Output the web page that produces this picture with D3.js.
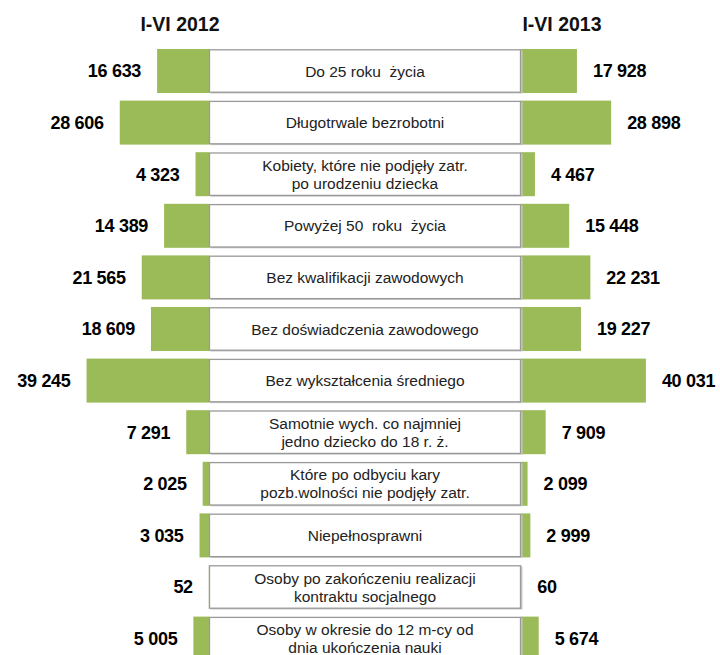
<!DOCTYPE html>
<html>
<head>
<meta charset="utf-8">
<script src="https://cdn.jsdelivr.net/npm/d3@7"></script>
<style>
  body { margin: 0; background: #fff; }
  text { font-family: "Liberation Sans", Arial, sans-serif; }
</style>
</head>
<body>
<div id="main-frame"></div>
<script>
const categories = [
  ["Do 25 roku  życia"],
  ["Długotrwale bezrobotni"],
  ["Kobiety, które nie podjęły zatr.", "po urodzeniu dziecka"],
  ["Powyżej 50  roku  życia"],
  ["Bez kwalifikacji zawodowych"],
  ["Bez doświadczenia zawodowego"],
  ["Bez wykształcenia średniego"],
  ["Samotnie wych. co najmniej", "jedno dziecko do 18 r. ż."],
  ["Które po odbyciu kary", "pozb.wolności nie podjęły zatr."],
  ["Niepełnosprawni"],
  ["Osoby po zakończeniu realizacji", "kontraktu socjalnego"],
  ["Osoby w okresie do 12 m-cy od", "dnia ukończenia nauki"]
];
const values2012 = [16633, 28606, 4323, 14389, 21565, 18609, 39245, 7291, 2025, 3035, 52, 5005];
const values2013 = [17928, 28898, 4467, 15448, 22231, 19227, 40031, 7909, 2099, 2999, 60, 5674];
const seriesNames = ["I-VI 2012", "I-VI 2013"];

const width = 720;
const height = 655;
const boxLeft = 209;
const boxRight = 521;
const green = "#9bbb59";

const svg = d3.select("#main-frame")
  .append("svg")
  .attr("width", width)
  .attr("height", height);

const idx = categories.map((d, i) => i);

const y = d3.scaleBand()
  .domain(idx)
  .range([45.2, 664.4])
  .paddingInner(0.147)
  .paddingOuter(0.0735);

const xLeft = d3.scaleLinear().domain([0, 40000]).range([boxLeft, boxLeft - 124.8]);
const xRight = d3.scaleLinear().domain([0, 40000]).range([boxRight, boxRight + 124.8]);

const fmt = d3.formatLocale({ decimal: ",", thousands: " ", grouping: [3], currency: ["", ""] }).format(",d");

// series titles
svg.append("text")
  .attr("x", 180).attr("y", 31)
  .attr("text-anchor", "middle")
  .attr("font-size", "19.5px").attr("font-weight", "bold")
  .attr("fill", "#111")
  .text(seriesNames[0]);
svg.append("text")
  .attr("x", 562).attr("y", 31)
  .attr("text-anchor", "middle")
  .attr("font-size", "19.5px").attr("font-weight", "bold")
  .attr("fill", "#111")
  .text(seriesNames[1]);

// left bars (2012)
svg.selectAll("rect.left")
  .data(values2012)
  .enter()
  .append("rect")
  .attr("class", "left")
  .attr("x", d => xLeft(d))
  .attr("y", (d, i) => y(i))
  .attr("width", d => boxLeft - xLeft(d))
  .attr("height", y.bandwidth())
  .attr("fill", green);

// right bars (2013)
svg.selectAll("rect.right")
  .data(values2013)
  .enter()
  .append("rect")
  .attr("class", "right")
  .attr("x", boxRight)
  .attr("y", (d, i) => y(i))
  .attr("width", d => xRight(d) - boxRight)
  .attr("height", y.bandwidth())
  .attr("fill", green);

// category boxes
const rows = svg.selectAll("g.cat")
  .data(categories)
  .enter()
  .append("g")
  .attr("class", "cat")
  .attr("transform", (d, i) => `translate(0, ${y(i)})`);

rows.append("rect")
  .attr("x", boxLeft + 1.5)
  .attr("y", 1.5)
  .attr("width", boxRight - boxLeft)
  .attr("height", y.bandwidth() - 1)
  .attr("fill", "#c8c8c8");

rows.append("rect")
  .attr("x", boxLeft + 0.5)
  .attr("y", 0.8)
  .attr("width", boxRight - boxLeft - 1)
  .attr("height", y.bandwidth() - 1.6)
  .attr("fill", "#fff")
  .attr("stroke", "#9a9a9a")
  .attr("stroke-width", 1.3);

rows.append("text")
  .attr("x", (boxLeft + boxRight) / 2)
  .attr("y", y.bandwidth() / 2)
  .attr("text-anchor", "middle")
  .attr("font-size", "15.5px")
  .attr("fill", "#222")
  .style("white-space", "pre")
  .selectAll("tspan")
  .data(d => d.map((t, j) => ({ t, j, n: d.length })))
  .enter()
  .append("tspan")
  .attr("x", (boxLeft + boxRight) / 2)
  .attr("y", d => y.bandwidth() / 2 + (d.j - (d.n - 1) / 2) * 18)
  .attr("dy", "0.36em")
  .text(d => d.t);

// value labels
svg.selectAll("text.lval")
  .data(values2012)
  .enter()
  .append("text")
  .attr("class", "lval")
  .attr("x", d => xLeft(d) - 16)
  .attr("y", (d, i) => y(i) + y.bandwidth() / 2)
  .attr("dy", "0.36em")
  .attr("text-anchor", "end")
  .attr("font-size", "18px").attr("font-weight", "bold")
  .attr("letter-spacing", "-0.3px")
  .attr("fill", "#000")
  .text(d => fmt(d));

svg.selectAll("text.rval")
  .data(values2013)
  .enter()
  .append("text")
  .attr("class", "rval")
  .attr("x", d => xRight(d) + 16)
  .attr("y", (d, i) => y(i) + y.bandwidth() / 2)
  .attr("dy", "0.36em")
  .attr("text-anchor", "start")
  .attr("font-size", "18px").attr("font-weight", "bold")
  .attr("letter-spacing", "-0.3px")
  .attr("fill", "#000")
  .text(d => fmt(d));
</script>
</body>
</html>
